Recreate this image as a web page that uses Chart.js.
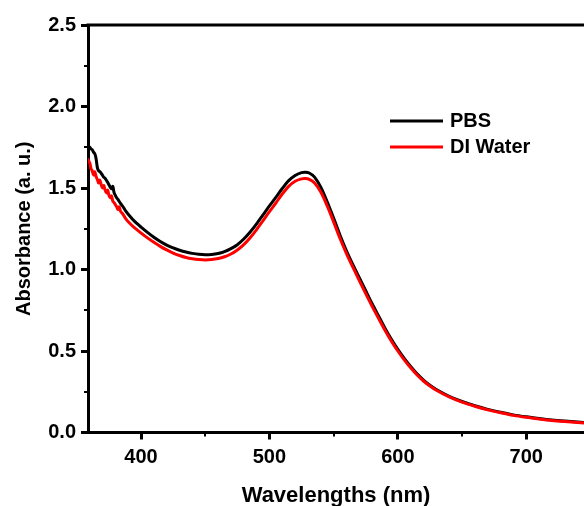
<!DOCTYPE html>
<html>
<head>
<meta charset="utf-8">
<script src="https://cdn.jsdelivr.net/npm/chart.js@4.4.1/dist/chart.umd.min.js"></script>
<style>
  html, body { margin: 0; padding: 0; background: #fff; }
</style>
</head>
<body>
<canvas id="uv" width="584" height="506"></canvas>
<script>
Chart.defaults.font.family = "'Liberation Sans', Arial, sans-serif";
Chart.defaults.font.weight = 'bold';
Chart.defaults.color = '#000';

//data
const seriesNames = ['PBS', 'DI Water'];

const wavePBS = [358,360,361,362,363,364,365,366,367,368,369,370,371,372,373,374,375,376,377,378,
  379,380,381,382,384,386,388,391,395,400,405,410,415,420,425,430,435,440,445,450,
  455,460,465,470,475,480,485,490,495,500,505,510,515,520,525,528,531,535,540,545,
  550,555,560,565,570,575,580,585,590,595,600,605,610,615,620,625,630,640,650,660,
  670,680,690,700,710,720,730,740,750];
const absPBS = [1.76,1.75,1.74,1.735,1.72,1.71,1.68,1.625,1.605,1.60,
  1.59,1.578,1.566,1.56,1.548,1.535,1.52,1.505,1.495,1.51,
  1.472,1.455,1.44,1.43,1.405,1.385,1.36,1.33,1.295,1.26,
  1.228,1.198,1.172,1.15,1.132,1.118,1.107,1.099,1.093,1.09,
  1.092,1.098,1.11,1.128,1.152,1.187,1.23,1.28,1.335,1.39,
  1.443,1.497,1.545,1.577,1.594,1.597,1.592,1.568,1.505,1.415,
  1.315,1.21,1.115,1.03,0.95,0.87,0.79,0.715,0.64,0.572,
  0.51,0.455,0.405,0.36,0.322,0.29,0.264,0.222,0.19,0.164,
  0.142,0.124,0.108,0.096,0.086,0.077,0.07,0.064,0.058];

const waveDI = [358,360,361,362,363,364,365,366,367,368,369,370,371,372,373,374,375,376,377,378,
  379,380,381,382,383,384,386,388,391,395,400,405,410,415,420,425,430,435,440,445,
  450,455,460,465,470,475,480,485,490,495,500,505,510,515,520,525,528,531,535,540,
  545,550,555,560,565,570,575,580,585,590,595,600,605,610,615,620,625,630,640,650,
  660,670,680,690,700,710,720,730,740,750];
const absDI = [1.68,1.655,1.62,1.605,1.58,1.60,1.57,1.552,1.53,1.548,
  1.52,1.50,1.515,1.488,1.47,1.487,1.455,1.44,1.452,1.42,
  1.41,1.398,1.385,1.368,1.385,1.358,1.338,1.312,1.285,1.255,
  1.224,1.194,1.167,1.142,1.12,1.101,1.086,1.074,1.066,1.061,
  1.059,1.061,1.067,1.078,1.095,1.12,1.153,1.195,1.245,1.30,
  1.355,1.408,1.463,1.51,1.541,1.556,1.558,1.553,1.532,1.475,
  1.39,1.292,1.19,1.098,1.014,0.932,0.852,0.774,0.70,0.627,
  0.56,0.50,0.446,0.397,0.353,0.316,0.285,0.259,0.218,0.186,
  0.161,0.139,0.121,0.105,0.093,0.083,0.074,0.067,0.061,0.055];

const xTicks = [400, 500, 600, 700];
const xMinor = [450, 550, 650];
const yTicks = [0, 0.5, 1.0, 1.5, 2.0, 2.5];
const yMinor = [0.25, 0.75, 1.25, 1.75, 2.25];

const toPoints = (xs, ys) => xs.map((x, i) => ({x: x, y: ys[i]}));

//frame, minor ticks and legend
const extras = {
    id: 'extras',
    afterDraw(chart) {
        const ctx = chart.ctx;
        const area = chart.chartArea;
        const sx = chart.scales.x, sy = chart.scales.y;
        ctx.save();
        ctx.strokeStyle = '#000';
        ctx.lineWidth = 3;
        ctx.beginPath();
        ctx.moveTo(area.left - 1.5, area.top);
        ctx.lineTo(area.right, area.top);
        ctx.stroke();

        ctx.lineWidth = 2;
        xMinor.forEach(v => {
            const px = Math.round(sx.getPixelForValue(v));
            ctx.beginPath();
            ctx.moveTo(px, area.bottom);
            ctx.lineTo(px, area.bottom + 4);
            ctx.stroke();
        });
        yMinor.forEach(v => {
            const py = Math.round(sy.getPixelForValue(v));
            ctx.beginPath();
            ctx.moveTo(area.left - 4, py);
            ctx.lineTo(area.left, py);
            ctx.stroke();
        });

        // legend
        ctx.font = "bold 20px 'Liberation Sans', Arial, sans-serif";
        ctx.textBaseline = 'middle';
        ctx.fillStyle = '#000';
        chart.data.datasets.forEach((ds, i) => {
            const y = 121 + i * 26;
            ctx.strokeStyle = ds.borderColor;
            ctx.lineWidth = 3;
            ctx.beginPath();
            ctx.moveTo(390, y);
            ctx.lineTo(443, y);
            ctx.stroke();
            ctx.fillText(ds.label, 450, y);
        });
        ctx.restore();
    }
};

const axisGrid = {
    drawOnChartArea: false,
    drawTicks: true,
    tickLength: 7,
    tickWidth: 3,
    tickColor: '#000'
};

//config
const config = {
    type: 'line',
    data: {
        datasets: [{
            label: seriesNames[0],
            data: toPoints(wavePBS, absPBS),
            borderColor: '#000000',
            borderWidth: 3,
            pointRadius: 0,
            tension: 0.3,
            order: 1
        }, {
            label: seriesNames[1],
            data: toPoints(waveDI, absDI),
            borderColor: '#ff0000',
            borderWidth: 3,
            pointRadius: 0,
            tension: 0.3,
            order: 0
        }]
    },
    options: {
        responsive: false,
        animation: false,
        layout: { padding: { top: 25, right: 0, left: 0, bottom: 0 } },
        plugins: {
            legend: { display: false },
            tooltip: { enabled: false }
        },
        scales: {
            x: {
                type: 'linear',
                min: 358.7,
                max: 745,
                border: { color: '#000', width: 3 },
                grid: axisGrid,
                afterBuildTicks: s => { s.ticks = xTicks.map(v => ({value: v})); },
                afterFit: s => { s.height = 73.5; },
                ticks: { font: { size: 20 }, padding: 6, maxRotation: 0 },
                title: {
                    display: true,
                    text: 'Wavelengths (nm)',
                    font: { size: 22 },
                    padding: { top: 0, bottom: -3 }
                }
            },
            y: {
                min: 0,
                max: 2.5,
                border: { color: '#000', width: 3 },
                grid: axisGrid,
                afterBuildTicks: s => { s.ticks = yTicks.map(v => ({value: v})); },
                afterFit: s => { s.width = 88; },
                ticks: { font: { size: 20 }, padding: 5, callback: v => v.toFixed(1) },
                title: {
                    display: true,
                    text: 'Absorbance (a. u.)',
                    font: { size: 20 },
                    padding: { top: 12, bottom: 0 }
                }
            }
        }
    },
    plugins: [extras]
};

//render
const uv = new Chart(document.getElementById('uv'), config);
</script>
</body>
</html>
